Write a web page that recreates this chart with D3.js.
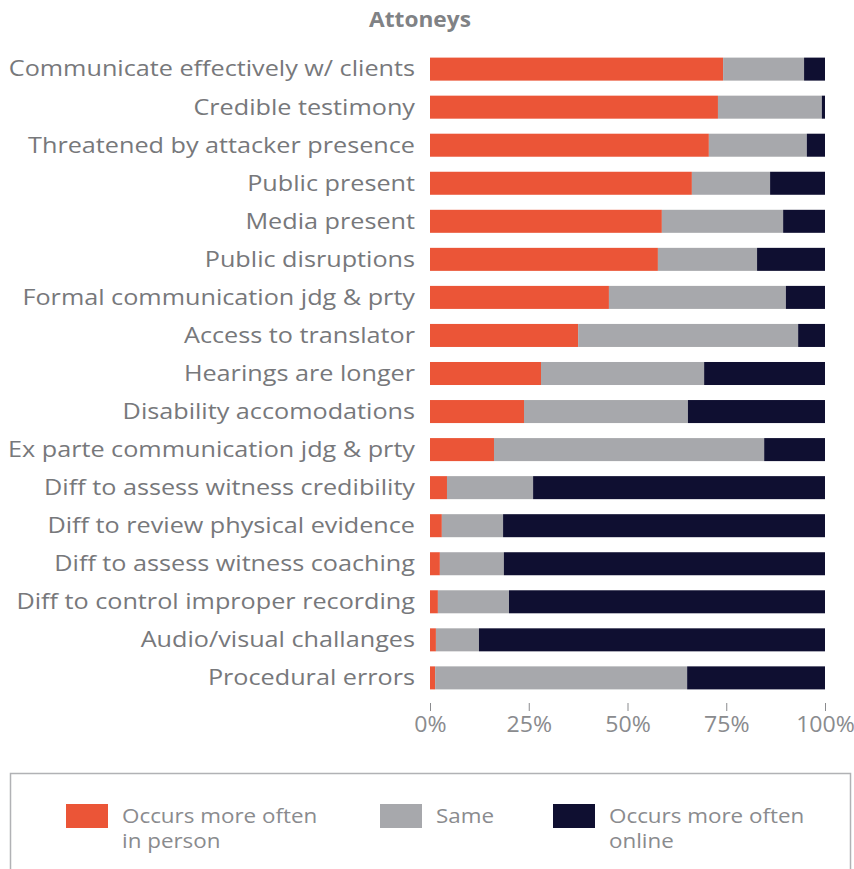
<!DOCTYPE html>
<html>
<head>
<meta charset="utf-8">
<script src="https://cdn.jsdelivr.net/npm/d3@7"></script>
<style>
  html, body { margin: 0; padding: 0; background: #fff; }
  svg { display: block; }
  text { font-family: "Open Sans", "DejaVu Sans", sans-serif; }
</style>
</head>
<body>
<svg id="chart" width="854" height="869"></svg>
<script>
const title = "Attoneys";
const categories = [
  "Communicate effectively w/ clients",
  "Credible testimony",
  "Threatened by attacker presence",
  "Public present ",
  "Media present ",
  "Public disruptions",
  "Formal communication jdg & prty",
  "Access to translator",
  "Hearings are longer",
  "Disability accomodations",
  "Ex parte communication jdg & prty",
  "Diff to assess witness credibility",
  "Diff to review physical evidence",
  "Diff to assess witness coaching",
  "Diff to control improper recording",
  "Audio/visual challanges",
  "Procedural errors"
];
const inPerson = [74.2, 72.9, 70.6, 66.3, 58.7, 57.7, 45.3, 37.5, 28.1, 23.8, 16.2, 4.3, 3.0, 2.5, 2.0, 1.5, 1.3];
const same     = [20.5, 26.3, 24.8, 19.8, 30.7, 25.1, 44.8, 55.7, 41.3, 41.5, 68.4, 21.8, 15.5, 16.2, 18.0, 10.9, 63.8];
const online   = [5.3, 0.8, 4.6, 13.9, 10.6, 17.2, 9.9, 6.8, 30.6, 34.7, 15.4, 73.9, 81.5, 81.3, 80.0, 87.6, 34.9];
const seriesNames = ["Occurs more often in person", "Same", "Occurs more often online"];
const seriesLegendLines = [["Occurs more often", "in person"], ["Same"], ["Occurs more often", "online"]];
const seriesColors = ["#eb5537", "#a7a8ac", "#0f0f31"];
const tickValues = [0, 25, 50, 75, 100];
const tickLabels = ["0%", "25%", "50%", "75%", "100%"];

const svg = d3.select("#chart");
const textColor = "#77787b";

const x = d3.scaleLinear().domain([0, 100]).range([430, 825]);
const y = d3.scaleBand().domain(categories).range([50, 697]).paddingInner(0.395).paddingOuter(0.2);

svg.append("g").attr("transform", "translate(420,27) scale(1.08,1)")
  .append("text")
  .attr("text-anchor", "middle")
  .attr("font-size", 21).attr("font-weight", 700)
  .attr("fill", "#808285")
  .text(title);

const rows = categories.map((c, i) => ({ cat: c, vals: [inPerson[i], same[i], online[i]] }));
const g = svg.append("g");
rows.forEach(r => {
  let cum = 0;
  r.vals.forEach((v, k) => {
    g.append("rect")
      .attr("x", x(cum))
      .attr("y", y(r.cat))
      .attr("width", Math.max(0, x(cum + v) - x(cum)))
      .attr("height", y.bandwidth())
      .attr("fill", seriesColors[k]);
    cum += v;
  });
});

// category labels (horizontally stretched to mimic the wide geometric face)
svg.append("g").selectAll("g").data(categories).join("g")
  .attr("transform", d => `translate(415,${y(d) + y.bandwidth() / 2}) scale(1.2,1)`)
  .append("text")
  .attr("dy", "0.35em")
  .attr("text-anchor", "end")
  .attr("font-size", 21)
  .attr("fill", textColor)
  .text(d => d);

// x axis
const axis = d3.axisBottom(x).tickValues(tickValues).tickFormat((d, i) => tickLabels[i]).tickSize(8).tickPadding(6);
const ax = svg.append("g").attr("transform", "translate(0,703)").call(axis);
ax.select(".domain").remove();
ax.selectAll(".tick line").attr("stroke", "#8a8b8e").attr("stroke-width", 1);
ax.selectAll(".tick text").attr("font-size", 21).attr("fill", "#8a8b8e")
  .attr("font-family", "\"Open Sans\", sans-serif")
  .attr("transform", "scale(1.1,1)");

// legend
svg.append("rect")
  .attr("x", 10.5).attr("y", 773.5).attr("width", 840).attr("height", 110)
  .attr("fill", "none").attr("stroke", "#b1b2b5").attr("stroke-width", 1.5);

const legendX = [66, 380, 553];
seriesNames.forEach((n, k) => {
  const lg = svg.append("g").attr("transform", `translate(${legendX[k]},804)`);
  lg.append("rect").attr("width", 42).attr("height", 24).attr("fill", seriesColors[k]);
  const tg = lg.append("g").attr("transform", "translate(56,0) scale(1.12,1)");
  seriesLegendLines[k].forEach((line, j) => {
    tg.append("text")
      .attr("x", 0).attr("y", 19 + j * 25)
      .attr("font-size", 20)
      .attr("fill", "#8a8b8e")
      .text(line);
  });
});
</script>
</body>
</html>
